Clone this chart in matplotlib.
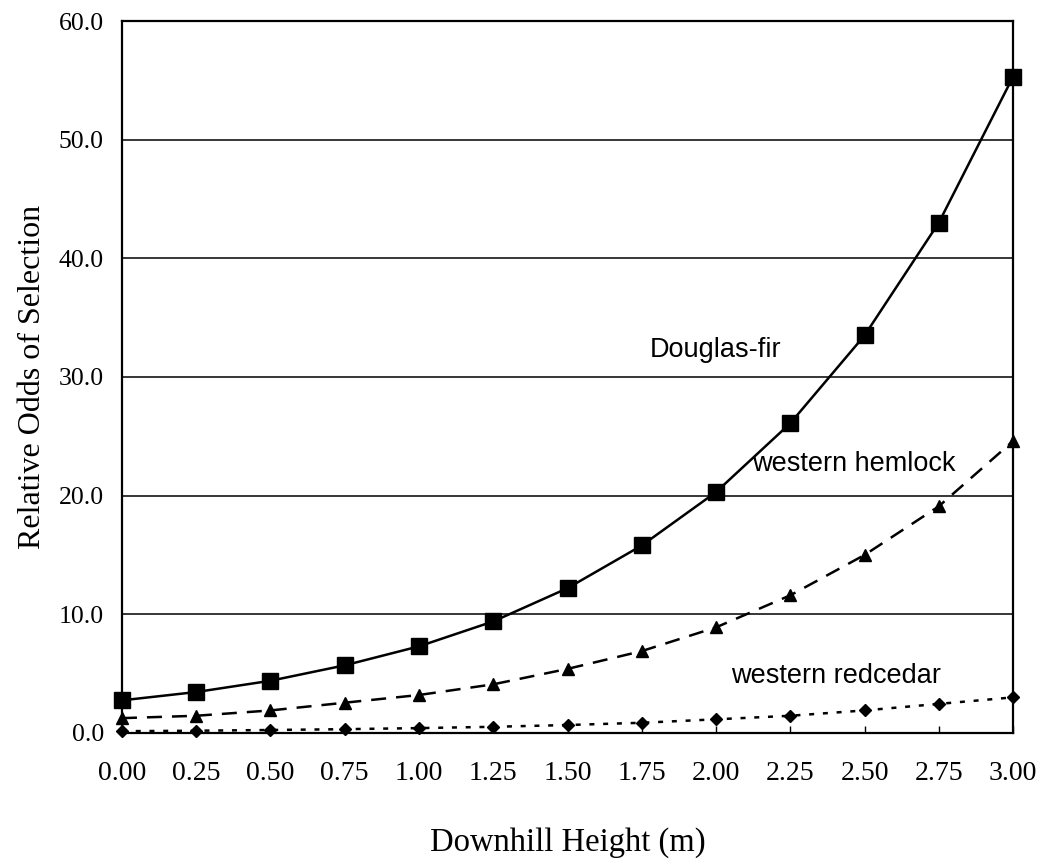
import numpy as np
import matplotlib
matplotlib.use("Agg")
import matplotlib.pyplot as plt

# downhill height (m)
heights = [0.00, 0.25, 0.50, 0.75, 1.00, 1.25, 1.50, 1.75, 2.00, 2.25, 2.50, 2.75, 3.00]
tick_labels = ["0.00", "0.25", "0.50", "0.75", "1.00", "1.25", "1.50",
               "1.75", "2.00", "2.25", "2.50", "2.75", "3.00"]

# relative odds of selection
douglas_fir = [2.75, 3.45, 4.4, 5.7, 7.3, 9.4, 12.2, 15.8, 20.3, 26.1, 33.5, 43.0, 55.3]
western_hemlock = [1.25, 1.45, 1.9, 2.55, 3.2, 4.1, 5.4, 6.9, 8.9, 11.6, 15.0, 19.1, 24.6]
western_redcedar = [0.15, 0.19, 0.25, 0.32, 0.41, 0.52, 0.67, 0.86, 1.15, 1.45, 1.9, 2.45, 3.0]

y_ticks = [0, 10, 20, 30, 40, 50, 60]

SERIF = "Liberation Serif"
SANS = "Liberation Sans"

fig = plt.figure(figsize=(10.46, 8.61), dpi=100)
ax = fig.add_axes([0.1166, 0.1487, 0.8519, 0.8269])

for yv in y_ticks[1:-1]:
    ax.axhline(yv, color="black", linewidth=1.1, zorder=1)

ax.plot(heights, douglas_fir, color="black", linestyle="-", linewidth=1.8,
        marker="s", markersize=11.5, zorder=3, clip_on=False)
ax.plot(heights, western_hemlock, color="black", linestyle=(0, (6, 4)), linewidth=1.8,
        marker="^", markersize=9, zorder=3, clip_on=False)
ax.plot(heights, western_redcedar, color="black", linestyle=(0, (2, 3.5)), linewidth=1.8,
        marker="D", markersize=6.5, zorder=3, clip_on=False)

ax.set_xlim(0, 3)
ax.set_ylim(0, 60)

ax.set_xticks(heights)
ax.set_xticklabels(tick_labels, fontsize=20, family=SERIF)
ax.set_yticks(y_ticks)
ax.set_yticklabels([f"{v:.1f}" for v in y_ticks], fontsize=18.5, family=SERIF)

ax.tick_params(axis="x", direction="in", length=5, width=1, pad=20)
ax.tick_params(axis="y", length=0, pad=13)

for spine in ax.spines.values():
    spine.set_linewidth(1.6)

ax.set_xlabel("Downhill Height (m)", fontsize=23.5, family=SERIF, labelpad=30)
ax.set_ylabel("Relative Odds of Selection", fontsize=23, family=SERIF)
ax.yaxis.set_label_coords(-0.084, 0.5)

ax.text(2.0, 32.3, "Douglas-fir", fontsize=19.5, family=SANS, ha="center", va="center")
ax.text(2.465, 22.7, "western hemlock", fontsize=19.5, family=SANS, ha="center", va="center")
ax.text(2.404, 4.8, "western redcedar", fontsize=19.5, family=SANS, ha="center", va="center")

fig.savefig("out.png", dpi=100)
